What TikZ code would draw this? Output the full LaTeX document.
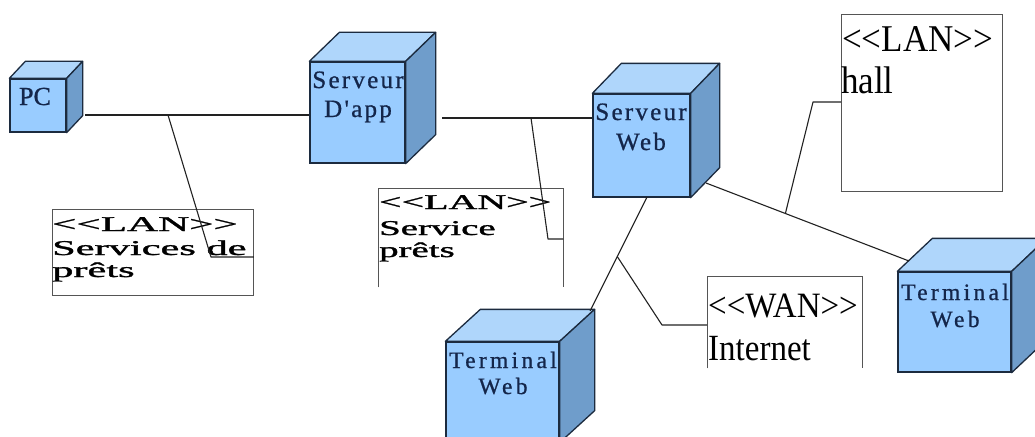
\documentclass[tikz,border=0pt]{standalone}
\usepackage{graphicx}
\usepackage{fontspec}
\setmainfont{Liberation Serif}
\newfontfamily\srvfont[LetterSpace=9,FakeBold=0.8]{Liberation Serif}
\newfontfamily\termfont[LetterSpace=14,FakeBold=0.8]{Liberation Serif}
\newfontfamily\pcfont[FakeBold=1]{Liberation Serif}
\newfontfamily\lanfont[FakeBold=1.2]{Liberation Serif}
\usetikzlibrary{calc}
\definecolor{cubefront}{HTML}{99CCFF}
\definecolor{cubetop}{HTML}{AFD6FB}
\definecolor{cubeside}{HTML}{6F9DCB}
\definecolor{cubeedge}{HTML}{1C2B3F}
\definecolor{inktext}{HTML}{14264A}
\definecolor{boxedge}{HTML}{555555}
\definecolor{wirecol}{HTML}{222222}
\newcommand{\stereo}[1]{<{}<{}#1>{}>}
\tikzset{
  cube/.style={draw=cubeedge, fill=cubefront, line width=1.3pt, inner sep=0pt},
  topface/.style={draw=cubeedge, fill=cubetop, line width=1.3pt, line join=round},
  sideface/.style={draw=cubeedge, fill=cubeside, line width=1.3pt, line join=round},
  cubetxt/.style={inner sep=0pt, anchor=base, text=inktext},
  boxtxt/.style={inner sep=0pt, anchor=base west, text=black},
  netbox/.style={draw=boxedge, line width=0.9pt, inner sep=0pt, anchor=north west},
  openbox/.style={inner sep=0pt, anchor=north west},
  openedge/.style={draw=boxedge, line width=0.9pt},
  wire/.style={draw=wirecol, line width=1.1pt, line join=round},
}
\begin{document}
\begin{tikzpicture}[x=1pt,y=-1pt]
\clip (0,0) rectangle (1035,436);
\fill[white] (0,0) rectangle (1035,436);

% network boxes
\node[netbox, minimum width=201pt, minimum height=86pt] (LANa) at (52,209) {};
\node[openbox, minimum width=185pt, minimum height=99pt] (LANb) at (378,188) {};
\draw[openedge] (LANb.south west) -- (LANb.north west) -- (LANb.north east) -- (LANb.south east);
\node[netbox, minimum width=161pt, minimum height=177pt] (Hall) at (841,14) {};
\node[openbox, minimum width=155pt, minimum height=92pt] (WAN) at (707,276) {};
\draw[openedge] (WAN.south west) -- (WAN.north west) -- (WAN.north east) -- (WAN.south east);

% box texts
\node[boxtxt] (LANat1) at (52,231) {\fontsize{21}{24}\selectfont\lanfont\scalebox{2.05}[1]{\stereo{LAN}}};
\node[boxtxt] (LANat2) at (52,255) {\fontsize{21}{24}\selectfont\lanfont\scalebox{2.02}[1]{Services de}};
\node[boxtxt] (LANat3) at (52,277) {\fontsize{21}{24}\selectfont\lanfont\scalebox{2.02}[1]{prêts}};
\node[boxtxt] (LANbt1) at (379,209) {\fontsize{21}{24}\selectfont\lanfont\scalebox{1.9}[1]{\stereo{LAN}}};
\node[boxtxt] (LANbt2) at (379,235) {\fontsize{21}{24}\selectfont\lanfont\scalebox{1.85}[1]{Service}};
\node[boxtxt] (LANbt3) at (379,257) {\fontsize{21}{24}\selectfont\lanfont\scalebox{1.85}[1]{prêts}};
\node[boxtxt] (Hallt1) at (842,52) {\fontsize{35}{40}\selectfont\scalebox{1}[1.08]{\stereo{LAN}}};
\node[boxtxt] (Hallt2) at (841,93) {\fontsize{35}{40}\selectfont\scalebox{1}[1.1]{hall}};
\node[boxtxt] (WANt1) at (708,317) {\fontsize{33}{38}\selectfont\scalebox{1}[1.08]{\stereo{WAN}}};
\node[boxtxt] (WANt2) at (708,360) {\fontsize{33}{38}\selectfont\scalebox{1}[1.12]{Internet}};

% cubes (front faces)
\node[cube, minimum width=56pt, minimum height=53pt] (PC) at (38,105.5) {};
\node[cube, minimum width=95pt, minimum height=101pt] (App) at (357.5,112.5) {};
\node[cube, minimum width=97pt, minimum height=103pt] (Web) at (641.5,145.5) {};
\node[cube, minimum width=113pt, minimum height=100pt] (TermR) at (954.5,322) {};
\node[cube, minimum width=113pt, minimum height=100pt] (TermB) at (502.5,392) {};
\foreach \n/\dx/\dy in {PC/16/-17, App/30/-29, Web/29/-30, TermR/35/-33, TermB/35/-32}{
  \filldraw[topface] (\n.north west) -- ++(\dx,\dy) -- ($(\n.north east)+(\dx,\dy)$) -- (\n.north east) -- cycle;
  \filldraw[sideface] (\n.north east) -- ++(\dx,\dy) -- ($(\n.south east)+(\dx,\dy)$) -- (\n.south east) -- cycle;
}

% cube texts
\node[cubetxt] (PCt) at (35,105) {\fontsize{26}{28}\selectfont\pcfont PC};
\node[cubetxt] (Appt1) at (358,88) {\fontsize{25}{28}\selectfont\srvfont Serveur};
\node[cubetxt] (Appt2) at (358,117) {\fontsize{25}{28}\selectfont\srvfont D'app};
\node[cubetxt] (Webt1) at (641,120) {\fontsize{25}{28}\selectfont\srvfont Serveur};
\node[cubetxt] (Webt2) at (641,150) {\fontsize{25}{28}\selectfont\srvfont Web};
\node[cubetxt] (TermRt1) at (955,300) {\fontsize{23.5}{26}\selectfont\termfont Terminal};
\node[cubetxt] (TermRt2) at (955,327) {\fontsize{23.5}{26}\selectfont\termfont Web};
\node[cubetxt] (TermBt1) at (503,368) {\fontsize{23.5}{26}\selectfont\termfont Terminal};
\node[cubetxt] (TermBt2) at (503,394) {\fontsize{23.5}{26}\selectfont\termfont Web};

% connectors
\coordinate (pcR) at (85,115);
\coordinate (ja) at (168,115);
\coordinate (ka) at (211,257);
\draw[wire] (pcR) -- (pcR -| App.west);
\draw[wire] (ja) -- (ka) -- (ka -| LANa.east);

\coordinate (appR) at (442,118);
\coordinate (jb) at (531,118);
\coordinate (kb) at (548,239);
\draw[wire] (appR) -- (appR -| Web.west);
\draw[wire] (jb) -- (kb) -- (kb -| LANb.east);

\coordinate (webR) at (706,183);
\coordinate (trTop) at (909,261);
\draw[wire] (webR) -- (trTop);
\coordinate (jc) at ($(webR)!0.391!(trTop)$);
\coordinate (kc) at (813,102);
\draw[wire] (jc) -- (kc) -- (kc -| Hall.west);

\coordinate (webB) at (647,197);
\coordinate (tbTop) at (590,311);
\draw[wire] (webB) -- (tbTop);
\coordinate (jd) at ($(webB)!0.522!(tbTop)$);
\coordinate (kd) at (662,325);
\draw[wire] (jd) -- (kd) -- (kd -| WAN.west);
\end{tikzpicture}
\end{document}
